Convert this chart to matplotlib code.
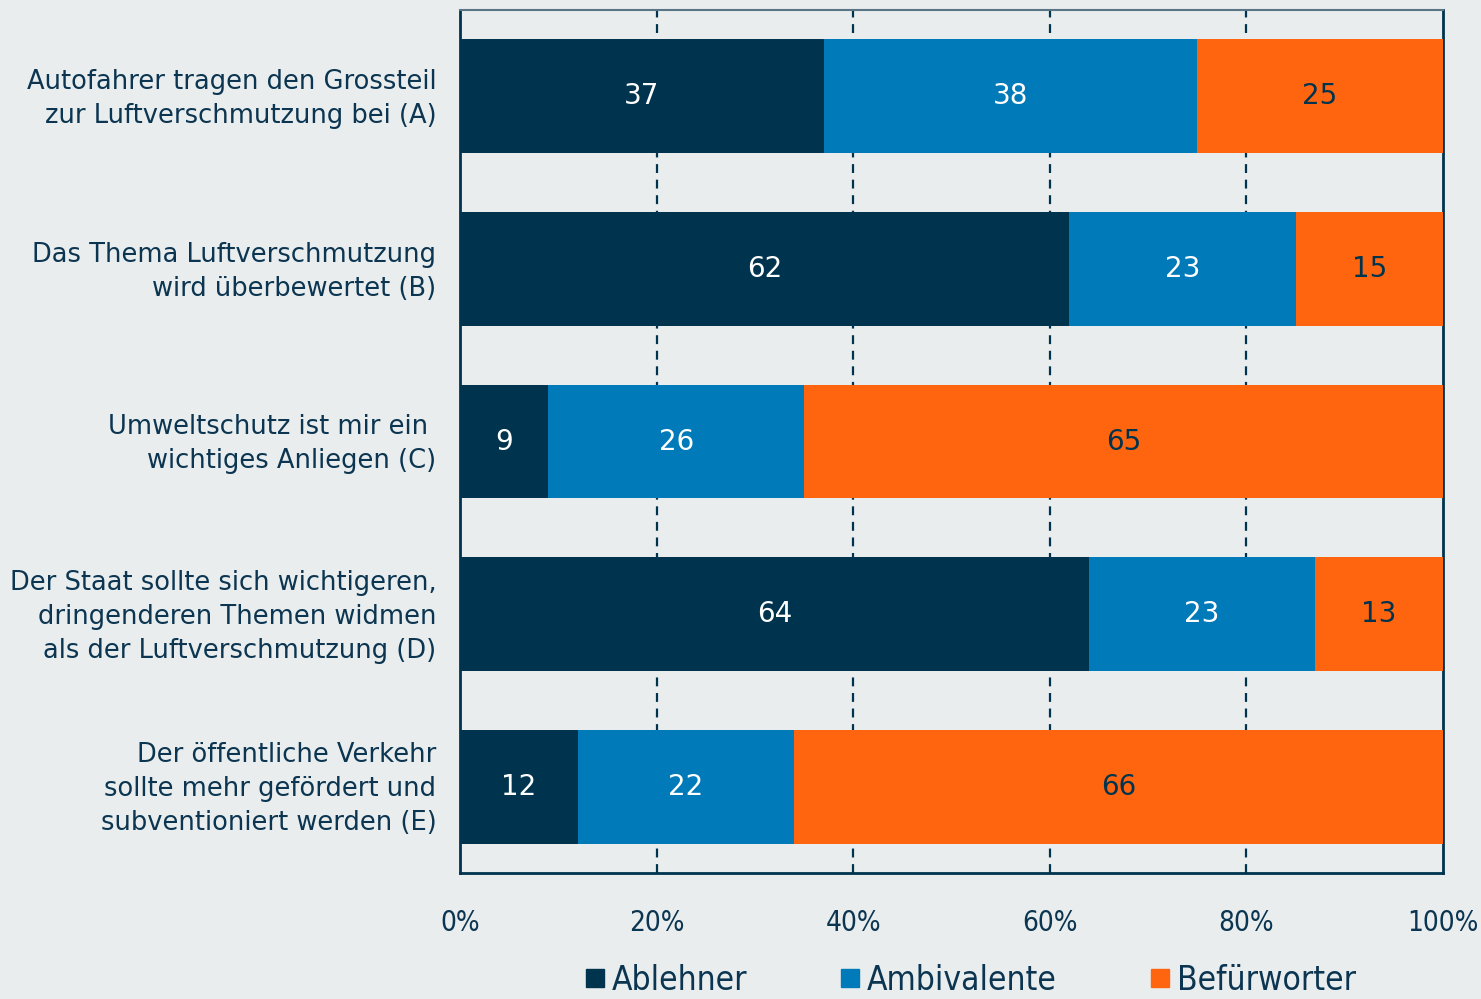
import matplotlib.pyplot as plt
import numpy as np
from matplotlib.lines import Line2D

categories = [
    "Autofahrer tragen den Grossteil\nzur Luftverschmutzung bei (A)",
    "Das Thema Luftverschmutzung\nwird überbewertet (B)",
    "Umweltschutz ist mir ein \nwichtiges Anliegen (C)",
    "Der Staat sollte sich wichtigeren,\ndringenderen Themen widmen\nals der Luftverschmutzung (D)",
    "Der öffentliche Verkehr\nsollte mehr gefördert und\nsubventioniert werden (E)",
]
ablehner = [37, 62, 9, 64, 12]
ambivalente = [38, 23, 26, 23, 22]
befuerworter = [25, 15, 65, 13, 66]
series_names = ["Ablehner", "Ambivalente", "Befürworter"]
xticks = [0, 20, 40, 60, 80, 100]

bg = "#E9EDEE"
dark = "#00334D"
blue = "#007AB8"
orange = "#FF650F"
txt = "#0B3550"
colors = [dark, blue, orange]
label_colors = ["white", "white", dark]

fig = plt.figure(figsize=(14.81, 9.99), dpi=100, facecolor=bg)
ax = fig.add_axes([460 / 1481, 1 - 873 / 999, (1443 - 460) / 1481, (873 - 10) / 999])
ax.set_facecolor(bg)

y = np.arange(len(categories))
left = np.zeros(len(categories))
for vals, c, lc in zip([ablehner, ambivalente, befuerworter], colors, label_colors):
    vals = np.array(vals)
    ax.barh(y, vals, left=left, height=0.66, color=c, zorder=3)
    for yi, l, v in zip(y, left, vals):
        ax.text(l + v / 2, yi, str(v), ha="center", va="center",
                color=lc, fontsize=20, zorder=4)
    left = left + vals

ax.set_xlim(0, 100)
ax.set_ylim(4.5, -0.5)
ax.set_yticks(y)
# small negative offset moves the multi-line labels up a touch
ax.set_yticks(y - 0.025)
ax.set_yticklabels(categories, fontsize=18.5, color=txt, linespacing=1.4)
ax.set_xticks(xticks)
ax.set_xticklabels([f"{t}%" for t in xticks], fontsize=20, color=txt,
                   fontstretch="condensed")
ax.tick_params(axis="both", length=0)
ax.tick_params(axis="x", pad=26)
ax.tick_params(axis="y", pad=17)

for t in [20, 40, 60, 80]:
    ax.axvline(t, color=dark, ls=(0, (4, 3)), lw=1.6, zorder=1)

for s in ["left", "bottom", "right"]:
    ax.spines[s].set_color(dark)
    ax.spines[s].set_linewidth(2)
ax.spines["top"].set_color("#5a7585")
ax.spines["top"].set_linewidth(1.5)

handles = [Line2D([], [], marker="s", ls="", color=c, markersize=13) for c in colors]
fig.legend(handles, series_names, loc="center", bbox_to_anchor=(0.654, 0.019),
           ncol=3, frameon=False, handletextpad=0.1, columnspacing=2.7,
           handlelength=0.8,
           prop={"size": 24, "stretch": "condensed"},
           labelcolor=txt)

fig.savefig("out.png", dpi=100, facecolor=bg)
